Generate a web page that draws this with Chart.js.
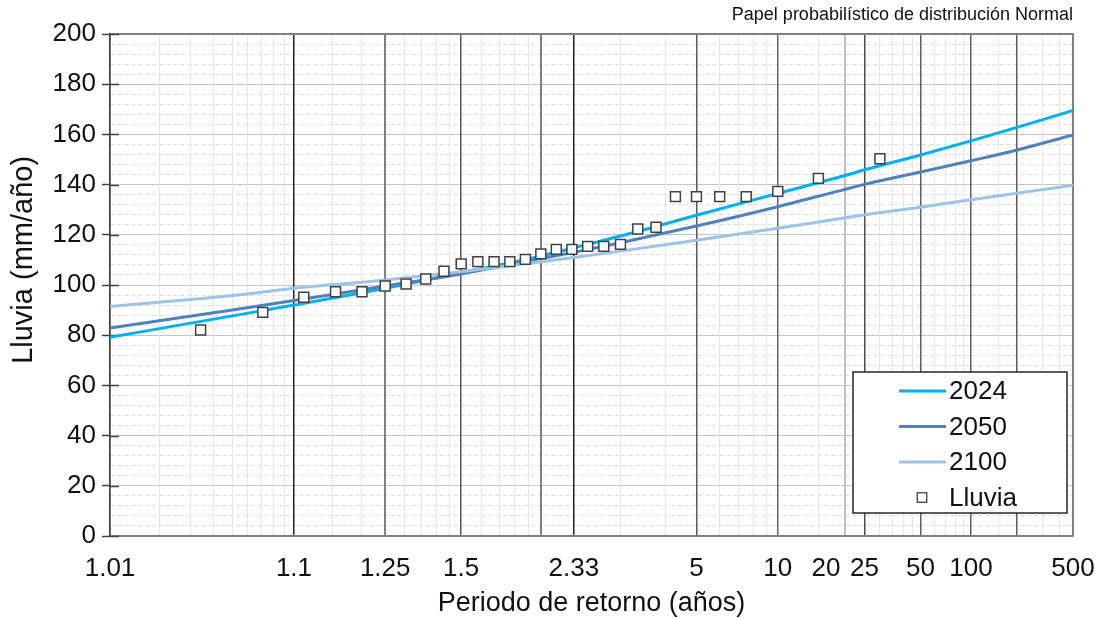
<!DOCTYPE html>
<html>
<head>
<meta charset="utf-8">
<script src="https://cdn.jsdelivr.net/npm/chart.js"></script>
<style>
  html, body { margin: 0; padding: 0; background: #ffffff; }
  canvas { display: block; }
</style>
</head>
<body>
<canvas id="c" width="1099" height="618"></canvas>
<script>
// ---------------- DATA ----------------
const chartTitle = 'Papel probabilístico de distribución Normal';
const xTitle = 'Periodo de retorno (años)';
const yTitle = 'Lluvia (mm/año)';

const seriesNames = ['2024', '2050', '2100', 'Lluvia'];

// return periods where the fitted curves were read
const curveT = [1.01, 1.05, 1.1, 1.25, 1.5, 2, 2.33, 3, 5, 10, 20, 25, 50, 100, 200, 500];
const rain2024 = [79.2, 87.7, 92.0, 98.7, 104.9, 111.5, 114.8, 119.5, 127.8, 136.5, 143.6, 145.9, 151.8, 157.4, 162.8, 169.5];
const rain2050 = [82.9, 90.0, 93.8, 99.6, 104.4, 110.5, 113.0, 116.8, 123.5, 131.2, 138.1, 140.1, 145.0, 149.5, 153.8, 159.8];
const rain2100 = [91.4, 95.8, 98.7, 102.0, 105.3, 109.3, 111.0, 113.5, 117.8, 122.6, 126.8, 128.0, 131.0, 134.0, 136.6, 139.7];

// observed annual rainfall with their return periods
const obsT = [1.034, 1.071, 1.111, 1.154, 1.2, 1.25, 1.304, 1.364, 1.429, 1.5, 1.579, 1.667, 1.765, 1.875, 2,
              2.143, 2.308, 2.5, 2.727, 3, 3.333, 3.75, 4.286, 5, 6, 7.5, 10, 15, 30];
const obsRain = [82.1, 89.1, 95.1, 97.3, 97.3, 99.6, 100.4, 102.4, 105.5, 108.4, 109.3, 109.3, 109.3, 110.2, 112.4,
                 114.2, 114.2, 115.4, 115.4, 116.2, 122.3, 123.0, 135.2, 135.2, 135.2, 135.2, 137.3, 142.5, 150.3];

// x axis (return period) tick labels and grid
const xLabelValues = [1.01, 1.1, 1.25, 1.5, 2.33, 5, 10, 20, 25, 50, 100, 500];
const xLabelTexts  = ['1.01', '1.1', '1.25', '1.5', '2.33', '5', '10', '20', '25', '50', '100', '500'];
const gridMajorT = [1.1, 1.25, 1.5, 2, 2.33, 5, 10, 20, 25, 50, 100, 200, 500];
const gridMinorT = [1.02, 1.03, 1.04, 1.05, 1.06, 1.07, 1.08, 1.09, 1.15, 1.2, 1.3, 1.35, 1.4, 1.45,
                    1.6, 1.7, 1.8, 1.9, 3, 4, 6, 7, 8, 9, 15, 30, 35, 40, 45, 60, 70, 80, 90, 150, 300, 400];
const xMin = 1.01, xMax = 500;
const yMin = 0, yMax = 200, yStep = 4, yLabelStep = 20;

// ---------------- STYLE ----------------
const FONT = '"Liberation Sans", Arial, Helvetica, sans-serif';
const TEXT = '#111111';
const colors = { '2024': '#00b0f0', '2050': '#4f81bd', '2100': '#9dc3e6' };
const majorStyle = {
  '1.01': ['#404040', 1.5], '1.1': ['#262626', 1.5], '1.25': ['#808080', 2], '1.5': ['#595959', 1.5],
  '2': ['#7f7f7f', 2], '2.33': ['#262626', 1.5], '5': ['#595959', 1.5], '10': ['#666666', 1.5],
  '20': ['#c0c0c0', 2], '25': ['#4d4d4d', 1.5], '50': ['#5f5f5f', 1.5], '100': ['#5f5f5f', 1.5],
  '200': ['#5f5f5f', 1.5], '500': ['#808080', 2]
};
const minorStyle = ['#e6e6e6', 1];
const xLabelNudge = { '20': -19 };

// ---------------- NORMAL PROBABILITY SCALE ----------------
function normInv(p) {
  const a = [-3.969683028665376e+01, 2.209460984245205e+02, -2.759285104469687e+02, 1.383577518672690e+02, -3.066479806614716e+01, 2.506628277459239e+00];
  const b = [-5.447609879822406e+01, 1.615858368580409e+02, -1.556989798598866e+02, 6.680131188771972e+01, -1.328068155288572e+01];
  const c = [-7.784894002430293e-03, -3.223964580411365e-01, -2.400758277161838e+00, -2.549732539343734e+00, 4.374664141464968e+00, 2.938163982698783e+00];
  const d = [7.784695709041462e-03, 3.224671290700398e-01, 2.445134137142996e+00, 3.754408661907416e+00];
  const pl = 0.02425, ph = 1 - pl;
  let q, r;
  if (p < pl) {
    q = Math.sqrt(-2 * Math.log(p));
    return (((((c[0]*q+c[1])*q+c[2])*q+c[3])*q+c[4])*q+c[5]) / ((((d[0]*q+d[1])*q+d[2])*q+d[3])*q+1);
  }
  if (p <= ph) {
    q = p - 0.5; r = q * q;
    return (((((a[0]*r+a[1])*r+a[2])*r+a[3])*r+a[4])*r+a[5])*q / (((((b[0]*r+b[1])*r+b[2])*r+b[3])*r+b[4])*r+1);
  }
  q = Math.sqrt(-2 * Math.log(1 - p));
  return -(((((c[0]*q+c[1])*q+c[2])*q+c[3])*q+c[4])*q+c[5]) / ((((d[0]*q+d[1])*q+d[2])*q+d[3])*q+1);
}
function normCdf(z) {
  const t = 1 / (1 + 0.2316419 * Math.abs(z));
  const dd = 0.3989423 * Math.exp(-z * z / 2);
  const pr = dd * t * (0.3193815 + t * (-0.3565638 + t * (1.781478 + t * (-1.821256 + t * 1.330274))));
  return z > 0 ? 1 - pr : pr;
}
const zOfT = (T) => normInv(1 - 1 / T);

class NormalProbScale extends Chart.Scale {
  static id = 'normalprob';
  static defaults = {};
  determineDataLimits() {
    this.min = this.options.min;
    this.max = this.options.max;
  }
  buildTicks() {
    const all = Array.from(new Set([xMin].concat(gridMinorT, gridMajorT))).sort((p, q) => p - q);
    return all.filter(v => v >= this.min && v <= this.max).map(v => ({ value: v }));
  }
  getLabelForValue(v) { return String(v); }
  configure() {
    super.configure();
    this._zStart = zOfT(this.min);
    this._zRange = zOfT(this.max) - this._zStart;
  }
  getPixelForValue(v) {
    if (v === null || v === undefined || isNaN(v)) return NaN;
    return this.getPixelForDecimal((zOfT(v) - this._zStart) / this._zRange);
  }
  getValueForPixel(px) {
    const z = this._zStart + this.getDecimalForPixel(px) * this._zRange;
    return 1 / (1 - normCdf(z));
  }
  _computeLabelItems(chartArea) {
    const items = super._computeLabelItems(chartArea);
    items.forEach(it => {
      const n = xLabelNudge[it.label];
      if (n) it.options.translation[0] += n;
    });
    return items;
  }
}
Chart.register(NormalProbScale);

// ---------------- PLUGINS ----------------
const decor = {
  id: 'decor',
  beforeDatasetsDraw(chart) {
    const { ctx, chartArea: a, scales: { y } } = chart;
    ctx.save();
    ctx.strokeStyle = '#808080';
    ctx.lineWidth = 2;
    ctx.beginPath();
    ctx.moveTo(a.left, a.top);
    ctx.lineTo(a.right, a.top);
    ctx.lineTo(a.right, a.bottom);
    ctx.stroke();
    ctx.strokeStyle = '#404040';
    ctx.lineWidth = 1.5;
    y.ticks.forEach(t => {
      if (t.value % yLabelStep === 0) {
        const py = Math.round(y.getPixelForValue(t.value)) + 0.5;
        ctx.beginPath();
        ctx.moveTo(a.left, py);
        ctx.lineTo(a.left + 9, py);
        ctx.stroke();
      }
    });
    ctx.restore();
  },
  afterDraw(chart) {
    const { ctx, chartArea: a } = chart;
    ctx.save();
    // y axis title
    ctx.translate(24, a.top + (a.bottom - a.top) * 0.45);
    ctx.rotate(-Math.PI / 2);
    ctx.font = '29px ' + FONT;
    ctx.fillStyle = TEXT;
    ctx.textAlign = 'center';
    ctx.textBaseline = 'middle';
    ctx.fillText(yTitle, 0, 0);
    ctx.restore();

    // legend box
    ctx.save();
    const bw = 214, bh = 141;
    const bx = a.right - 220, by = a.bottom - 164;
    ctx.fillStyle = '#ffffff';
    ctx.fillRect(bx, by, bw, bh);
    ctx.strokeStyle = '#262626';
    ctx.lineWidth = 1.5;
    ctx.strokeRect(bx, by, bw, bh);
    ctx.font = '26px ' + FONT;
    ctx.textBaseline = 'middle';
    ctx.textAlign = 'left';
    chart.data.datasets.forEach((ds, i) => {
      const cy = by + 19 + i * 35.5;
      if (ds.showLine === false) {
        const s = 9.5;
        ctx.fillStyle = '#ffffff';
        ctx.fillRect(bx + 69 - s / 2, cy - s / 2, s, s);
        ctx.strokeStyle = ds.pointBorderColor;
        ctx.lineWidth = 1.3;
        ctx.strokeRect(bx + 69 - s / 2, cy - s / 2, s, s);
      } else {
        ctx.strokeStyle = ds.borderColor;
        ctx.lineWidth = 3;
        ctx.beginPath();
        ctx.moveTo(bx + 46, cy);
        ctx.lineTo(bx + 93, cy);
        ctx.stroke();
      }
      ctx.fillStyle = TEXT;
      ctx.fillText(ds.label, bx + 96, cy + 1);
    });
    ctx.restore();
  }
};

// ---------------- CHART ----------------
const toXY = (xs, ys) => xs.map((x, i) => ({ x: x, y: ys[i] }));
const lineDs = (name, vals, order) => ({
  label: name,
  data: toXY(curveT, vals),
  borderColor: colors[name],
  backgroundColor: colors[name],
  borderWidth: 3,
  pointRadius: 0,
  cubicInterpolationMode: 'monotone',
  order: order
});

function xStyle(ctx) {
  const v = ctx.tick ? ctx.tick.value : null;
  if (v !== null && majorStyle[String(v)]) return majorStyle[String(v)];
  return minorStyle;
}

Chart.defaults.font.family = FONT;

new Chart(document.getElementById('c'), {
  type: 'line',
  data: {
    datasets: [
      lineDs(seriesNames[0], rain2024, 4),
      lineDs(seriesNames[1], rain2050, 3),
      lineDs(seriesNames[2], rain2100, 2),
      {
        label: seriesNames[3],
        data: toXY(obsT, obsRain),
        showLine: false,
        pointStyle: 'rect',
        pointRadius: 7,
        pointBackgroundColor: '#ffffff',
        pointBorderColor: '#404040',
        pointBorderWidth: 1.5,
        borderColor: '#404040',
        backgroundColor: '#ffffff',
        order: 1
      }
    ]
  },
  options: {
    responsive: false,
    animation: false,
    devicePixelRatio: 1,
    layout: { padding: { left: 0, right: 26, top: 0, bottom: 0 } },
    plugins: {
      legend: { display: false },
      tooltip: { enabled: false },
      title: {
        display: true,
        text: chartTitle,
        align: 'end',
        color: TEXT,
        font: { size: 18, weight: 'normal', lineHeight: 1.15 },
        padding: { top: 5, bottom: 8.3 }
      }
    },
    scales: {
      x: {
        type: 'normalprob',
        min: xMin,
        max: xMax,
        afterFit: (s) => { s.height = 82; s.paddingLeft = 0; s.paddingRight = 0; },
        grid: {
          color: (ctx) => xStyle(ctx)[0],
          lineWidth: (ctx) => xStyle(ctx)[1],
          drawTicks: false,
          z: -1
        },
        border: { color: '#808080', width: 2 },
        ticks: {
          autoSkip: false,
          maxRotation: 0,
          minRotation: 0,
          padding: 17,
          color: TEXT,
          font: { size: 26 },
          callback: (v) => {
            const i = xLabelValues.indexOf(v);
            return i >= 0 ? xLabelTexts[i] : '';
          }
        },
        title: {
          display: true,
          text: xTitle,
          color: TEXT,
          font: { size: 27, lineHeight: 1.0 },
          padding: { top: 0, bottom: 1 }
        }
      },
      y: {
        min: yMin,
        max: yMax,
        afterFit: (s) => { s.width = 110; s.paddingTop = 0; s.paddingBottom = 0; },
        ticks: {
          stepSize: yStep,
          autoSkip: false,
          padding: 6,
          color: TEXT,
          font: { size: 26 },
          callback: (v) => (v % yLabelStep === 0 ? String(v) : '')
        },
        grid: {
          color: (ctx) => (ctx.tick && ctx.tick.value % yLabelStep === 0 ? '#c4c4c4' : '#dcdcdc'),
          lineWidth: 1,
          tickLength: 8,
          tickWidth: 1.5,
          tickColor: (ctx) => (ctx.tick && ctx.tick.value % yLabelStep === 0 ? '#404040' : 'rgba(0,0,0,0)'),
          z: -2
        },
        border: {
          color: '#404040',
          width: 1.5,
          dash: (ctx) => (ctx.tick && ctx.tick.value % yLabelStep !== 0 ? [4, 3] : [])
        }
      }
    }
  },
  plugins: [decor]
});
</script>
</body>
</html>
